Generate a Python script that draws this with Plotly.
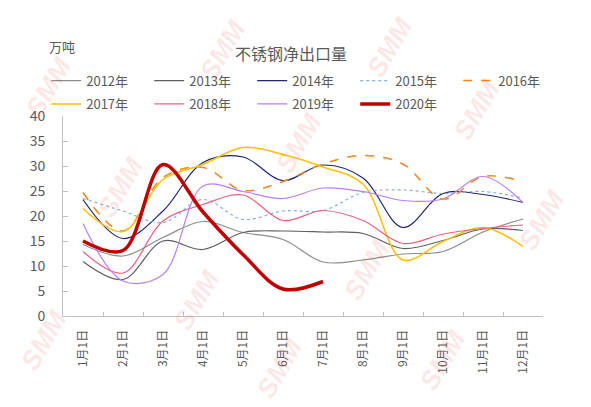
import plotly.graph_objects as go

# catégories et séries (万吨)
months = ["1月1日", "2月1日", "3月1日", "4月1日", "5月1日", "6月1日",
          "7月1日", "8月1日", "9月1日", "10月1日", "11月1日", "12月1日"]

y2012 = [14.3, 12.0, 15.7, 18.9, 16.7, 15.3, 10.8, 11.2, 12.4, 12.9, 16.8, 19.4]
y2013 = [10.9, 7.3, 15.0, 13.3, 16.7, 17.0, 16.8, 16.5, 13.5, 15.1, 17.4, 17.1]
y2014 = [23.3, 15.5, 21.0, 30.7, 31.8, 27.1, 30.2, 27.6, 17.7, 24.5, 24.3, 22.7]
y2015 = [23.5, 21.0, 18.7, 23.3, 19.3, 21.0, 21.1, 24.7, 25.2, 24.5, 24.9, 23.6]
y2016 = [24.7, 17.0, 27.7, 29.7, 25.1, 26.9, 30.4, 32.1, 30.4, 23.4, 27.9, 26.9]
y2017 = [21.5, 16.9, 27.3, 30.3, 33.7, 32.3, 29.8, 26.4, 11.2, 14.9, 17.7, 13.9]
y2018 = [12.9, 8.6, 19.0, 22.3, 24.2, 19.1, 21.1, 19.1, 14.5, 16.4, 17.5, 18.2]
y2019 = [18.5, 7.0, 8.3, 26.0, 24.9, 23.5, 25.6, 24.9, 23.1, 23.4, 27.9, 22.7]
y2020 = [15.0, 13.1, 30.3, 20.8, 12.3, 5.4, 6.9]

FONT = "Noto Sans CJK SC"
TXT = "#595959"

# filigranes SMM (pixels de la page, coin haut-gauche)
wm_pos = [(49, 87), (223, 50), (390, 47), (477, 110), (121, 187), (299, 143),
          (542, 220), (367, 270), (197, 300), (44, 340), (443, 360), (280, 368)]

# (nom, valeurs, style de ligne, ligne de légende)
series = [
    ("2012年", y2012, dict(color="#8c8c8c", width=1.2), "legend"),
    ("2013年", y2013, dict(color="#5f5f5f", width=1.2), "legend"),
    ("2014年", y2014, dict(color="#1f2370", width=1.2), "legend"),
    ("2015年", y2015, dict(color="#7fb0ee", width=1.2, dash="dot"), "legend"),
    ("2016年", y2016, dict(color="#f5841f", width=1.5, dash="dash"), "legend"),
    ("2017年", y2017, dict(color="#ffbf00", width=1.5), "legend2"),
    ("2018年", y2018, dict(color="#ef5f7d", width=1.2), "legend2"),
    ("2019年", y2019, dict(color="#b87ef5", width=1.2), "legend2"),
    ("2020年", y2020, dict(color="#c00000", width=3.5), "legend2"),
]

fig = go.Figure()
for name, vals, line, leg in series:
    fig.add_trace(go.Scatter(x=months[:len(vals)], y=vals, name=name, legend=leg,
                             mode="lines", line=dict(shape="spline", smoothing=1, **line)))

leg_common = dict(orientation="h", x=-0.035, xanchor="left", yanchor="middle",
                  entrywidth=58, entrywidthmode="pixels", itemwidth=30,
                  font=dict(family=FONT, size=13, color=TXT), traceorder="normal",
                  bgcolor="rgba(0,0,0,0)")

annots = [
    dict(text="不锈钢净出口量", x=0.475, y=1.316, xref="paper", yref="paper",
         xanchor="center", yanchor="middle",
         showarrow=False, font=dict(size=16, color=TXT, family=FONT)),
    dict(text="万吨", x=-0.003, y=1.347, xref="paper", yref="paper",
         xanchor="center", yanchor="middle",
         showarrow=False, font=dict(size=13, color=TXT, family=FONT)),
]
# zone de tracé : 63..543 px en x, 116..316 px en y
for px, py in wm_pos:
    annots.append(dict(text="<b><i>SMM</i></b>", x=(px - 63) / 480, y=(316 - py) / 200,
                       xref="paper", yref="paper", xanchor="center", yanchor="middle",
                       textangle=-60, showarrow=False,
                       font=dict(size=27, color="rgba(235,70,70,0.13)", family="Liberation Sans")))

# la page a une marge de 8px dans le navigateur -> figure un peu plus petite
fig.update_layout(
    width=583, height=399,
    margin=dict(l=55, r=48, t=108, b=91),
    paper_bgcolor="white", plot_bgcolor="white",
    font=dict(family=FONT, color=TXT, size=13),
    showlegend=True,
    legend=dict(y=1.177, **leg_common),
    legend2=dict(y=1.06, **leg_common),
    annotations=annots,
)

fig.update_xaxes(type="category", range=[-0.5, 11.5], showline=True, linecolor="#bfbfbf",
                 ticks="inside", ticklen=4, tickcolor="#bfbfbf", tickson="boundaries",
                 tickangle=-90, tickfont=dict(size=12, color=TXT), showgrid=False,
                 ticklabelstandoff=8)
fig.update_yaxes(range=[0, 40], dtick=5, showline=True, linecolor="#bfbfbf",
                 ticks="inside", ticklen=5, tickcolor="#bfbfbf", showgrid=False,
                 zeroline=False, tickfont=dict(size=14, color=TXT), ticklabelstandoff=14)

fig.write_html("out.html")
